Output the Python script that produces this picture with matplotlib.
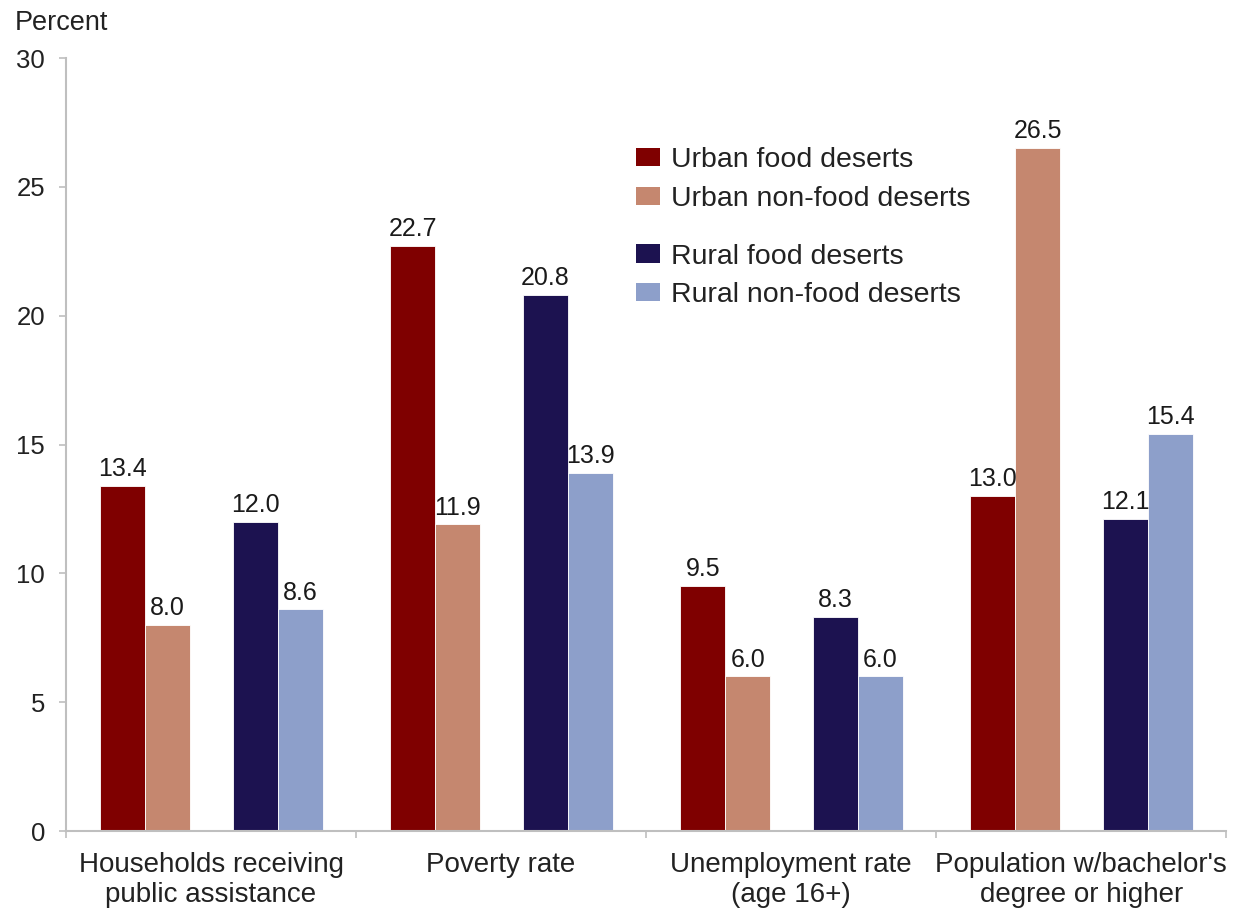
import numpy as np
import matplotlib.pyplot as plt
from matplotlib.patches import Patch

plt.rcParams['font.family'] = ['Liberation Sans', 'DejaVu Sans']

categories = ["Households receiving\npublic assistance", "Poverty rate",
              "Unemployment rate\n(age 16+)", "Population w/bachelor's\ndegree or higher"]
series_names = ["Urban food deserts", "Urban non-food deserts",
                "Rural food deserts", "Rural non-food deserts"]
urban_food = [13.4, 22.7, 9.5, 13.0]
urban_nonfood = [8.0, 11.9, 6.0, 26.5]
rural_food = [12.0, 20.8, 8.3, 12.1]
rural_nonfood = [8.6, 13.9, 6.0, 15.4]
colors = ["#7f0000", "#c5876f", "#1c1250", "#8d9fca"]

series = [urban_food, urban_nonfood, rural_food, rural_nonfood]
offsets = [0.195, 0.350, 0.653, 0.808]
width = 0.155

fig = plt.figure(figsize=(12.45, 9.11), dpi=100)
ax = fig.add_axes([0.053, 0.0878, 0.932, 0.8485])

x = np.arange(len(categories))
for vals, off, col in zip(series, offsets, colors):
    bars = ax.bar(x + off, vals, width, color=col, edgecolor='white', linewidth=0.6)
    for b, v in zip(bars, vals):
        ax.annotate(f"{v:.1f}", (b.get_x() + b.get_width() / 2, v),
                    xytext=(0, 3.5), textcoords='offset points',
                    ha='center', va='bottom', fontsize=18, color='#1a1a1a')

ax.set_xlim(0, 4)
ax.set_ylim(0, 30)
ax.set_yticks(range(0, 31, 5))
ax.set_xticks(np.arange(5))
ax.set_xticklabels([])
ax.set_xticks(x + 0.5, minor=True)
ax.set_xticklabels(categories, minor=True, fontsize=20, color='#222222', linespacing=1.2)
ax.tick_params(axis='x', which='minor', length=0, pad=15)
ax.tick_params(axis='x', which='major', length=5, width=1.2, color='#bfbfbf', direction='out')
ax.tick_params(axis='y', length=5, width=1.2, color='#bfbfbf', labelsize=18.5,
               labelcolor='#222222', pad=10)

for s in ['top', 'right']:
    ax.spines[s].set_visible(False)
for s in ['left', 'bottom']:
    ax.spines[s].set_color('#bfbfbf')
    ax.spines[s].set_linewidth(1.5)

fig.text(0.012, 0.975, "Percent", fontsize=19.5, color='#222222', va='center', ha='left')

# two legend blocks: urban pair above rural pair
handles = [Patch(facecolor=c) for c in colors]
leg_kw = dict(frameon=False, fontsize=20.5, handlelength=0.85, handleheight=0.6,
              handletextpad=0.4, labelspacing=0.45, borderpad=0, borderaxespad=0,
              loc='upper left')
leg1 = ax.legend(handles[:2], series_names[:2], bbox_to_anchor=(0.491, 0.885), **leg_kw)
for t in leg1.get_texts():
    t.set_color('#222222')
ax.add_artist(leg1)
leg2 = ax.legend(handles[2:], series_names[2:], bbox_to_anchor=(0.491, 0.760), **leg_kw)
for t in leg2.get_texts():
    t.set_color('#222222')

fig.savefig("out.png", dpi=100)
